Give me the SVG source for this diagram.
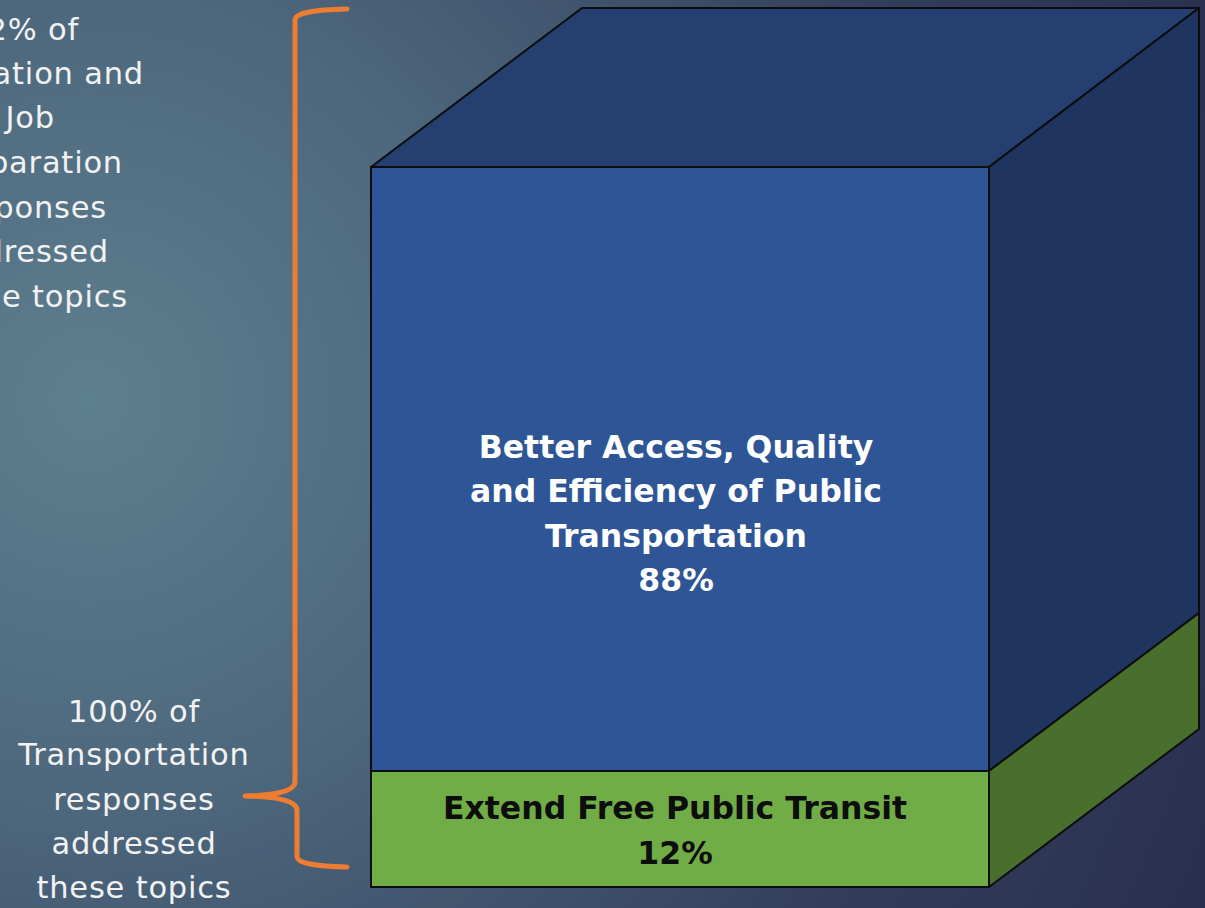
<svg xmlns="http://www.w3.org/2000/svg" width="1205" height="908" viewBox="0 0 1205 908">
<defs>
<radialGradient id="bg" cx="90" cy="400" r="1200" gradientUnits="userSpaceOnUse">
<stop offset="0" stop-color="#5e7f8f"/>
<stop offset="0.35" stop-color="#4c667c"/>
<stop offset="0.75" stop-color="#323d5a"/>
<stop offset="1" stop-color="#2a3150"/>
</radialGradient>
<style>
.face{stroke:#0d0d0d;stroke-width:2;stroke-linejoin:round}
.side{font-family:"DejaVu Sans","Liberation Sans",sans-serif;font-size:30.5px;fill:#f2f2f2;letter-spacing:0.8px}
.lbl{font-family:"DejaVu Sans","Liberation Sans",sans-serif;font-size:31.5px;font-weight:bold;text-anchor:middle}
</style>
</defs>
<rect width="1205" height="908" fill="url(#bg)"/>
<g id="cube">
<polygon class="face" points="371,167 582,8 1199,8 989,167" fill="#243f70"/>
<polygon class="face" points="989,167 1199,8 1199,613 989,771" fill="#1f355f"/>
<polygon class="face" points="989,771 1199,613 1199,729 989,887" fill="#4a6f2c"/>
<rect class="face" x="371" y="167" width="618" height="604" fill="#2e5595"/>
<rect class="face" x="371" y="771" width="618" height="116" fill="#70ad47"/>
</g>
<g id="node-transport">
<text class="lbl" fill="#ffffff" x="676" y="458">Better Access, Quality</text>
<text class="lbl" fill="#ffffff" x="676" y="502">and Efficiency of Public</text>
<text class="lbl" fill="#ffffff" x="676" y="547">Transportation</text>
<text class="lbl" fill="#ffffff" x="676" y="591">88%</text>
</g>
<g id="node-free">
<text class="lbl" fill="#0d0d0d" x="675" y="819">Extend Free Public Transit</text>
<text class="lbl" fill="#0d0d0d" x="675" y="864">12%</text>
</g>
<g id="label-top" class="side" text-anchor="end">
<text x="79" y="40">2% of</text>
<text x="144" y="84">ation and</text>
<text x="55" y="128">Job</text>
<text x="123" y="173">paration</text>
<text x="107" y="218">ponses</text>
<text x="109" y="262">dressed</text>
<text x="128" y="307">e topics</text>
</g>
<g id="label-bottom" class="side" text-anchor="middle">
<text x="134" y="722">100% of</text>
<text x="134" y="765">Transportation</text>
<text x="134" y="810">responses</text>
<text x="134" y="854">addressed</text>
<text x="134" y="898">these topics</text>
</g>
<g id="connectors">
<path d="M347,9 Q295,10 295,20 L295,782 Q295,795 245,796 Q297,797 297,810 L297,857 Q298,866 347,867" fill="none" stroke="#ed7d31" stroke-width="5" stroke-linecap="round" stroke-linejoin="round"/>
</g>
</svg>
